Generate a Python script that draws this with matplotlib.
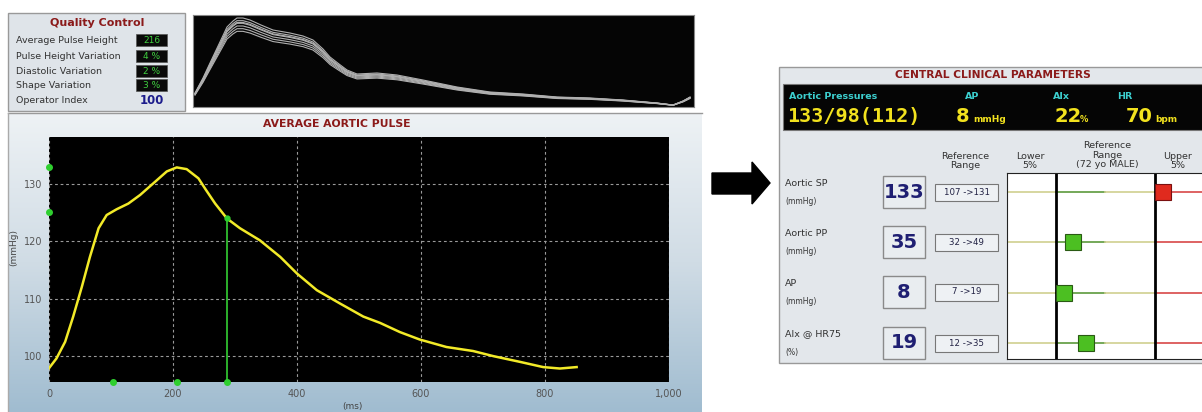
import matplotlib
matplotlib.use("Agg")
import matplotlib.pyplot as plt
import matplotlib.patches as mpatches
from matplotlib.colors import LinearSegmentedColormap
import numpy as np

W, H = 1202, 412

# ---- quality control panel
qc_labels = ["Average Pulse Height", "Pulse Height Variation", "Diastolic Variation",
             "Shape Variation"]
qc_values = ["216", "4 %", "2 %", "3 %"]
operator_index = "100"

# ---- overlaid raw pulses (top strip), panel-relative px and per-trace amplitude
raw_x = [2, 10, 17, 26, 34, 40, 44, 50, 57, 68, 80, 97, 110, 120, 130, 137, 146, 154,
         164, 184, 204, 230, 264, 297, 330, 364, 397, 430, 464, 480, 490, 497]
raw_h = [14, 29, 44, 63, 80, 86, 89, 89, 87, 82, 77, 74, 71, 67, 58, 50, 43, 37,
         33, 34, 32, 27, 20, 15, 13, 10, 9, 7, 4, 2, 6, 10]
raw_scale = [1.0, 0.97, 0.94, 0.91, 0.88, 0.85, 0.95]

# ---- average aortic pulse
pulse_ms = [0, 12, 26, 39, 53, 66, 80, 93, 109, 128, 147, 168, 190, 206, 222, 241,
            253, 268, 287, 308, 340, 373, 400, 432, 469, 507, 534, 566, 598, 641,
            684, 717, 760, 797, 824, 851]
pulse_mmhg = [97.9, 99.6, 102.5, 106.9, 112.1, 117.3, 122.3, 124.6, 125.6, 126.6,
              128.1, 130.1, 132.2, 132.9, 132.6, 131.0, 129.0, 126.6, 124.0, 122.3,
              120.2, 117.3, 114.4, 111.5, 109.2, 106.9, 105.8, 104.2, 102.9, 101.6,
              100.9, 100.0, 99.0, 98.1, 97.85, 98.1]
notch_ms, notch_mmhg = 287, 124.0
foot_marks_ms = [104, 206, 287]
left_marks_mmhg = [132.9, 125.2]
x_ticks = [0, 200, 400, 600, 800, 1000]
x_tick_labels = ["0", "200", "400", "600", "800", "1,000"]
y_ticks = [100, 110, 120, 130]

# ---- central clinical parameters
param_names = ["Aortic SP", "Aortic PP", "AP", "AIx @ HR75"]
param_units = ["(mmHg)", "(mmHg)", "(mmHg)", "(%)"]
param_values = [133, 35, 8, 19]
ref_low = [107, 32, 7, 12]
ref_high = [131, 49, 19, 35]

fig = plt.figure(figsize=(W / 100, H / 100), dpi=100)
fig.patch.set_facecolor("white")


def px_axes(x0, y0, x1, y1):
    return fig.add_axes([x0 / W, 1 - y1 / H, (x1 - x0) / W, (y1 - y0) / H])


bg = fig.add_axes([0, 0, 1, 1])
bg.set_axis_off()

# main panel gradient
grad = np.linspace(0, 1, 256).reshape(-1, 1)
cmap = LinearSegmentedColormap.from_list("g", ["#eef2f5", "#d0dce5", "#a0bcd0"])
bg.imshow(grad, extent=(8, 702, 412, 113), origin="upper", aspect="auto", cmap=cmap)
bg.plot([8, 702], [113, 113], color="#999999", lw=1)
bg.plot([8, 8], [113, 412], color="#aaaaaa", lw=1)

# quality control box
bg.add_patch(mpatches.Rectangle((8, 13), 177, 98, facecolor="#dfe4e9", edgecolor="#999999", lw=1))
bg.text(97, 23, "Quality Control", ha="center", va="center", color="#8b1a1a",
        fontsize=8, fontweight="bold")
rows_y = [40, 56, 71, 85]
for lab, val, y in zip(qc_labels, qc_values, rows_y):
    bg.text(16, y, lab, ha="left", va="center", fontsize=6.8, color="#333333")
    bg.add_patch(mpatches.Rectangle((136, y - 6), 31, 12, facecolor="#0a0a0a", edgecolor="#555555", lw=0.5))
    bg.text(151.5, y, val, ha="center", va="center", fontsize=6.5, color="#3fcf3f")
bg.text(16, 100, "Operator Index", ha="left", va="center", fontsize=6.8, color="#333333")
bg.text(152, 100, operator_index, ha="center", va="center", fontsize=8.5,
        fontweight="bold", color="#1c1c8c")

bg.text(337, 124, "AVERAGE AORTIC PULSE", ha="center", va="center", color="#8b1a1a",
        fontsize=7.8, fontweight="bold")
bg.text(14, 247, "(mmHg)", rotation=90, ha="center", va="center", fontsize=6.5, color="#444444")
bg.text(352, 407, "(ms)", ha="center", va="center", fontsize=6.5, color="#444444")

# arrow
bg.add_patch(mpatches.Polygon([(712, 173), (752, 173), (752, 162), (770, 183), (752, 204),
                               (752, 194), (712, 194)], closed=True, facecolor="black", edgecolor="black"))

# right panel
bg.add_patch(mpatches.Rectangle((779, 67), 430, 296, facecolor="#e3e7eb", edgecolor="#999999", lw=1))
bg.text(993, 75, "CENTRAL CLINICAL PARAMETERS", ha="center", va="center", color="#8b1a1a",
        fontsize=7.7, fontweight="bold")
bg.add_patch(mpatches.Rectangle((783, 84), 425, 46, facecolor="#050505", edgecolor="#777777", lw=0.8))
teal = "#3ccfcf"
yel = "#f2e21e"
bg.text(789, 96, "Aortic Pressures", color=teal, fontsize=6.8, fontweight="bold", va="center")
bg.text(787, 116, "133/98(112)", color=yel, fontsize=14.5, fontweight="bold",
        family="DejaVu Sans Mono", va="center")
bg.text(965, 96, "AP", color=teal, fontsize=6.8, fontweight="bold", va="center")
bg.text(956, 116, "8", color=yel, fontsize=14, fontweight="bold", va="center")
bg.text(973, 119, "mmHg", color=yel, fontsize=6.5, fontweight="bold", va="center")
bg.text(1053, 96, "AIx", color=teal, fontsize=6.8, fontweight="bold", va="center")
bg.text(1054, 116, "22", color=yel, fontsize=14, fontweight="bold", va="center")
bg.text(1080, 119, "%", color=yel, fontsize=6, fontweight="bold", va="center")
bg.text(1117, 96, "HR", color=teal, fontsize=6.8, fontweight="bold", va="center")
bg.text(1126, 116, "70", color=yel, fontsize=14, fontweight="bold", va="center")
bg.text(1155, 119, "bpm", color=yel, fontsize=6.5, fontweight="bold", va="center")

hdr = dict(ha="center", va="center", fontsize=6.8, color="#333333", linespacing=1.05)
bg.text(965, 161, "Reference\nRange", **hdr)
bg.text(1030, 161, "Lower\n5%", **hdr)
bg.text(1107, 155, "Reference\nRange\n(72 yo MALE)", **hdr)
bg.text(1178, 161, "Upper\n5%", **hdr)

row_centers = [192, 242, 292, 343]
for i, yc in enumerate(row_centers):
    bg.text(785, yc - 9, param_names[i], fontsize=6.8, color="#333333", va="center")
    bg.text(785, yc + 9, param_units[i], fontsize=5.5, color="#333333", va="center")
    bg.add_patch(mpatches.Rectangle((883, yc - 16), 42, 32, facecolor="#e9edf0", edgecolor="#8a8a8a", lw=1))
    bg.text(904, yc, str(param_values[i]), ha="center", va="center", fontsize=14,
            fontweight="bold", color="#1f1f72")
    bg.add_patch(mpatches.Rectangle((935, yc - 8.5), 63, 17, facecolor="#eef1f4", edgecolor="#777777", lw=0.8))
    bg.text(966.5, yc, "%d ->%d" % (ref_low[i], ref_high[i]), ha="center", va="center",
            fontsize=6.2, color="#222244")

bg.set_xlim(0, W)
bg.set_ylim(H, 0)

# ---- top strip of raw pulses
ax_raw = px_axes(193, 15, 694, 107)
ax_raw.set_facecolor("#050505")
for s in raw_scale:
    ax_raw.plot(raw_x, np.array(raw_h) * s, color="#b0b0b0", lw=0.8)
ax_raw.set_xlim(0, 501)
ax_raw.set_ylim(0, 92)
ax_raw.set_xticks([])
ax_raw.set_yticks([])
for sp in ax_raw.spines.values():
    sp.set_color("#888888")

# ---- average aortic pulse
ax = px_axes(49, 137, 669, 382)
ax.set_facecolor("black")
ax.set_xlim(0, 1000)
ax.set_ylim(95.5, 138.2)
ax.set_xticks(x_ticks)
ax.set_xticklabels(x_tick_labels)
ax.set_yticks(y_ticks)
ax.tick_params(length=0, labelsize=7, colors="#555555", pad=5)
ax.grid(True, color="#9a9a9a", lw=0.8, linestyle=(0, (2.5, 2.5)))
for sp in ax.spines.values():
    sp.set_visible(False)
ax.vlines(notch_ms, 95.5, notch_mmhg, color="#2fbf2f", lw=1.3, zorder=3)
ax.plot(pulse_ms, pulse_mmhg, color="#f2ea28", lw=1.8, zorder=4)
ax.plot([notch_ms], [notch_mmhg], "o", color="#2fcf2f", ms=3.5, zorder=5)
ax.plot(foot_marks_ms, [95.5] * len(foot_marks_ms), "o", color="#2fcf2f", ms=4, clip_on=False, zorder=5)
ax.plot([0] * len(left_marks_mmhg), left_marks_mmhg, "o", color="#2fcf2f", ms=4, clip_on=False, zorder=5)

# ---- parameter position chart (lower 5% at 0, upper 5% at 1)
axc = px_axes(1007, 173, 1202, 359)
axc.set_facecolor("white")
axc.set_xlim(-0.495, 1.475)
axc.set_ylim(3.32, -0.38)
axc.set_xticks([])
axc.set_yticks([])
for k in ["left", "top", "bottom"]:
    axc.spines[k].set_color("#222222")
axc.spines["right"].set_visible(False)
for i in range(len(param_values)):
    pos = (param_values[i] - ref_low[i]) / (ref_high[i] - ref_low[i])
    axc.plot([-0.495, 0], [i, i], color="#cfcf8f", lw=1.2)
    axc.plot([0, 0.5], [i, i], color="#5c9a3c", lw=1.2)
    axc.plot([0.5, 1], [i, i], color="#cfcf8f", lw=1.2)
    axc.plot([1, 1.475], [i, i], color="#d84848", lw=1.2)
    inside = 0 <= pos <= 1
    axc.plot([pos], [i], "s", ms=11, color="#4cbf22" if inside else "#e02a1e",
             mec="#2a5a14" if inside else "#7a1010", mew=0.8, zorder=5)
axc.axvline(0, color="black", lw=2)
axc.axvline(1, color="black", lw=2)

fig.savefig("out.png", dpi=100)
